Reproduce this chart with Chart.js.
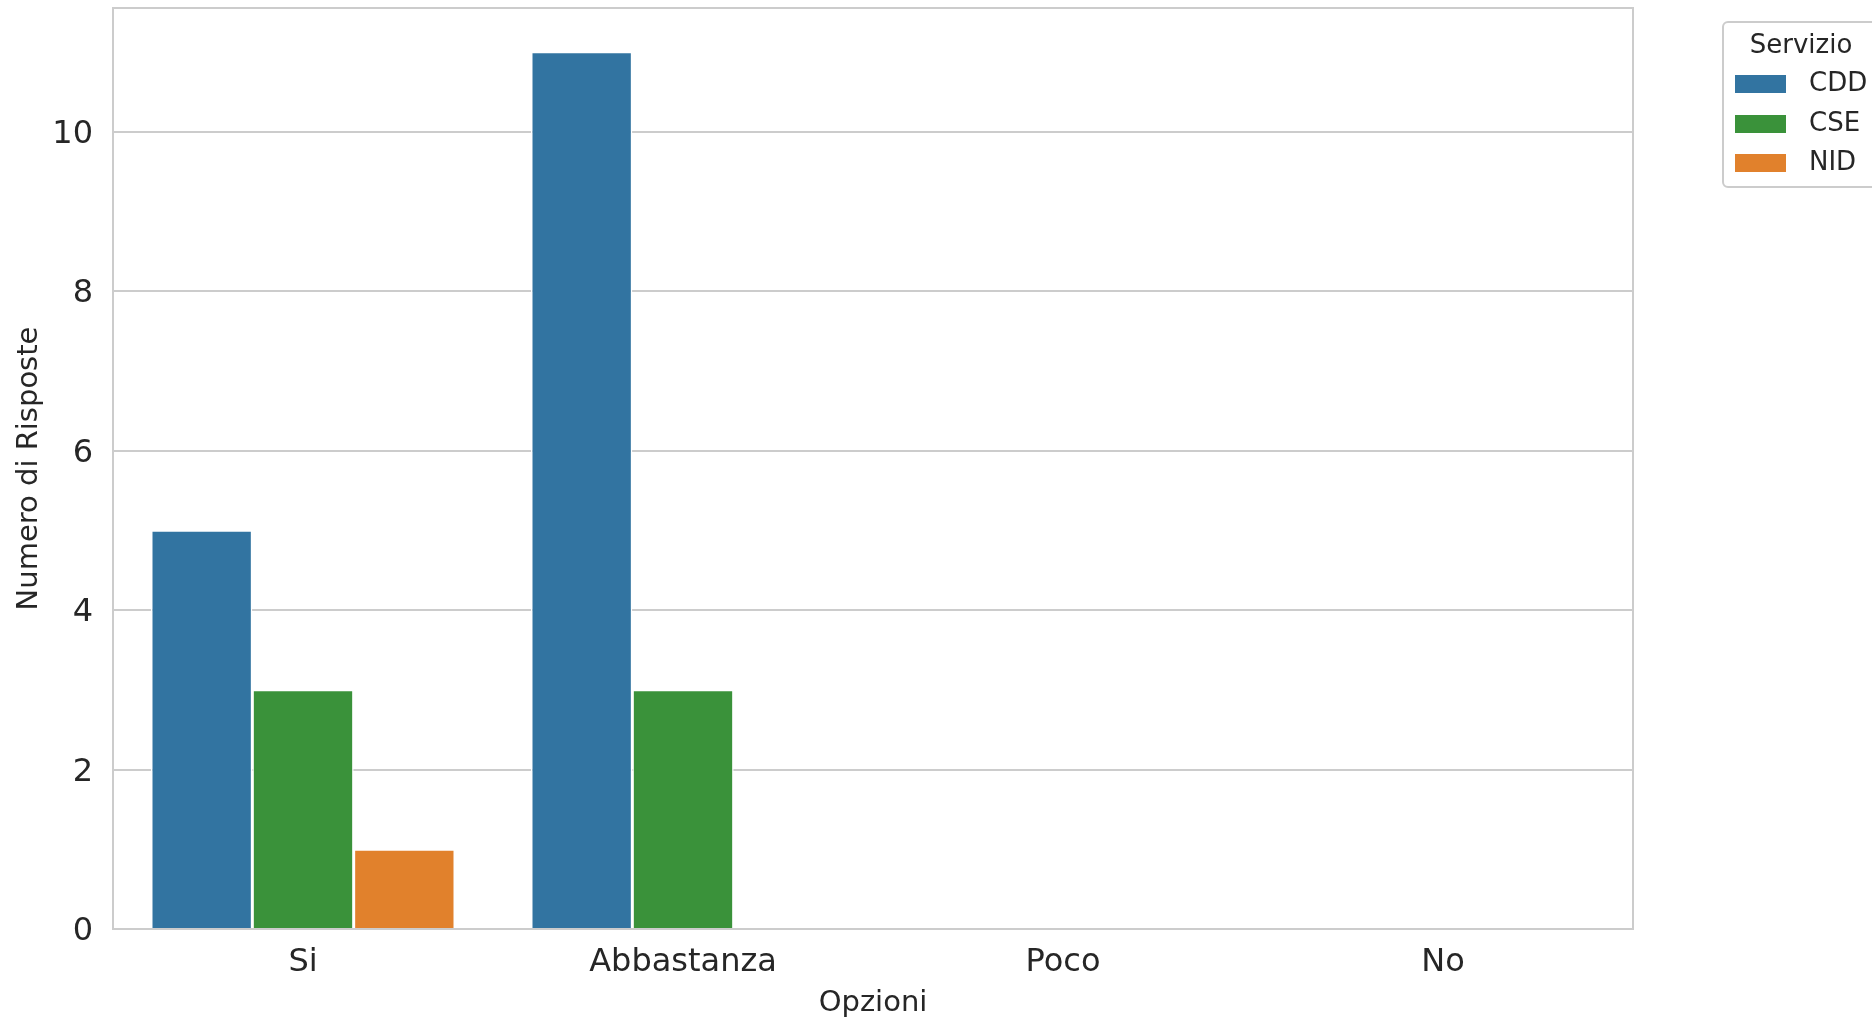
<!DOCTYPE html>
<html lang="it">
<head>
  <meta charset="UTF-8" />
  <title>Numero di Risposte per Opzione</title>
  <script src="https://cdn.jsdelivr.net/npm/chart.js"></script>
  <style>
    html, body { margin: 0; padding: 0; background: #ffffff; }
    #wrap { width: 1872px; height: 1020px; position: relative; }
  </style>
</head>
<body>
  <div id="wrap">
    <canvas id="chart" width="1872" height="1020"></canvas>
  </div>

  <script>
    // Data
    const categories = ['Si', 'Abbastanza', 'Poco', 'No'];
    const cddValues = [5, 11, 0, 0];
    const cseValues = [3, 3, 0, 0];
    const nidValues = [1, 0, 0, 0];
    const yTicks = [0, 2, 4, 6, 8, 10];

    const seriesNames = ['CDD', 'CSE', 'NID'];
    const seriesColors = ['#3274a1', '#3a923a', '#e1812c'];
    const textColor = '#262626';
    const gridColor = '#cccccc';
    const fontFamily = '"DejaVu Sans", sans-serif';

    // frame round the plot area (all four sides)
    const framePlugin = {
      id: 'frame',
      afterDraw(chart) {
        const { ctx, chartArea: a } = chart;
        ctx.save();
        ctx.strokeStyle = gridColor;
        ctx.lineWidth = 2;
        ctx.strokeRect(a.left, a.top, a.right - a.left, a.bottom - a.top);
        ctx.restore();
      }
    };

    // legend box on the right, clipped by the canvas edge like the original
    const legendPlugin = {
      id: 'sideLegend',
      afterDraw(chart) {
        const ctx = chart.ctx;
        ctx.save();
        const x = 1723, y = 22, w = 170, h = 165, r = 5;
        ctx.beginPath();
        ctx.roundRect(x, y, w, h, r);
        ctx.fillStyle = 'rgba(255,255,255,0.8)';
        ctx.fill();
        ctx.strokeStyle = gridColor;
        ctx.lineWidth = 2;
        ctx.stroke();

        ctx.fillStyle = textColor;
        ctx.font = '26px ' + fontFamily;
        ctx.textAlign = 'center';
        ctx.textBaseline = 'middle';
        ctx.fillText('Servizio', 1801, 46);

        ctx.textAlign = 'left';
        const rows = [84, 124, 163];
        seriesNames.forEach((name, i) => {
          ctx.fillStyle = seriesColors[i];
          ctx.fillRect(1735, rows[i] - 9, 51, 18);
          ctx.fillStyle = textColor;
          ctx.fillText(name, 1809, rows[i]);
        });
        ctx.restore();
      }
    };

    const ctx = document.getElementById('chart');
    new Chart(ctx, {
      type: 'bar',
      data: {
        labels: categories,
        datasets: [cddValues, cseValues, nidValues].map((vals, i) => ({
          label: seriesNames[i],
          data: vals,
          backgroundColor: seriesColors[i],
          borderColor: '#ffffff',
          borderWidth: 1.5,
          borderSkipped: 'bottom',
          categoryPercentage: 0.8,
          barPercentage: 1.0
        }))
      },
      options: {
        responsive: false,
        animation: false,
        devicePixelRatio: 1,
        layout: { padding: { top: 8, right: 239, bottom: 0, left: 0 } },
        plugins: {
          legend: { display: false },
          tooltip: { enabled: false }
        },
        scales: {
          x: {
            grid: { display: false, drawTicks: false },
            border: { display: false },
            ticks: {
              color: textColor,
              font: { family: fontFamily, size: 32 },
              padding: 14
            },
            title: {
              display: true,
              text: 'Opzioni',
              color: textColor,
              font: { family: fontFamily, size: 29, lineHeight: 1.1 },
              padding: { top: 0, bottom: 1 }
            },
            afterFit(scale) { scale.height = 91; }
          },
          y: {
            min: 0,
            max: 11.55,
            grid: { color: gridColor, lineWidth: 2, drawTicks: false },
            border: { display: false },
            afterBuildTicks(scale) {
              scale.ticks = yTicks.map(v => ({ value: v }));
            },
            ticks: {
              color: textColor,
              font: { family: fontFamily, size: 32 },
              padding: 20,
              labelOffset: 3
            },
            title: {
              display: true,
              text: 'Numero di Risposte',
              color: textColor,
              font: { family: fontFamily, size: 29 },
              padding: { top: 12, bottom: 0 }
            },
            afterFit(scale) {
              scale.width = 113;
              scale.paddingTop = 0;
              scale.paddingBottom = 0;
            }
          }
        }
      },
      plugins: [framePlugin, legendPlugin]
    });
  </script>
</body>
</html>
